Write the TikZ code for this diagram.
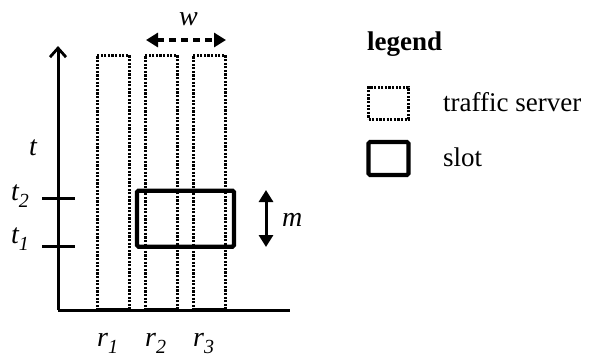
\documentclass[tikz,border=0pt]{standalone}
\usepackage{fontspec}
\setmainfont{Liberation Serif}
\usetikzlibrary{arrows.meta}
\newcommand\sbs[1]{\raisebox{-7pt}{\fontsize{20}{20}\selectfont #1}}
\begin{document}
\begin{tikzpicture}[x=1pt,y=-1pt,
  server/.style={draw=black,line width=3pt,dash pattern=on 2.2pt off 1.4pt,inner sep=0pt,outer sep=0pt},
  slotbox/.style={draw=black,line width=4.2pt,rounded corners=1.5pt,inner sep=0pt,outer sep=0pt},
  axis/.style={line width=3pt},
  lbl/.style={font=\fontsize{28}{30}\selectfont\itshape,inner sep=0pt,anchor=base west},
  txt/.style={font=\fontsize{27}{29}\selectfont,inner sep=0pt}]
\useasboundingbox (0,0) rectangle (607,360);
% axes
\coordinate (o) at (58,310);
\coordinate (ytop) at (58,46);
\coordinate (xend) at (290,310);
\draw[axis,-{Straight Barb[length=9pt,width=16pt,line width=2.8pt]}] (o) -- (ytop);
\draw[axis] (o) -- (xend);
% ticks
\coordinate (t2a) at (42,198.5); \coordinate (t2b) at (75,198.5);
\coordinate (t1a) at (42,246.5); \coordinate (t1b) at (75,246.5);
\draw[axis] (t2a) -- (t2b);
\draw[axis] (t1a) -- (t1b);
% servers
\node[server,minimum width=32pt,minimum height=255pt] (c1) at (113,182.5) {};
\node[server,minimum width=32pt,minimum height=255pt] (c2) at (161,182.5) {};
\node[server,minimum width=32pt,minimum height=255pt] (c3) at (209,182.5) {};
\draw[line width=4pt] (c1.south west) -- (c1.south east);
\draw[line width=4pt] (c2.south west) -- (c2.south east);
\draw[line width=4pt] (c3.south west) -- (c3.south east);
% slot
\node[slotbox,minimum width=97pt,minimum height=56pt] (slot) at (185.5,218.7) {};
% w arrow
\coordinate (wl) at (146,40); \coordinate (wr) at (226,40);
\draw[line width=3.2pt,dash pattern=on 7pt off 5pt,{Triangle[length=12pt,width=14pt]}-{Triangle[length=12pt,width=14pt]}] (wl) -- (wr);
\node[lbl] (w) at (179,25) {w};
% m arrow
\coordinate (mt) at (266,190); \coordinate (mb) at (266,247);
\draw[line width=3pt,{Triangle[length=12pt,width=14pt]}-{Triangle[length=12pt,width=14pt]}] (mt) -- (mb);
\node[lbl] (m) at (282,226) {m};
% labels
\node[lbl] (t) at (29,155) {t};
\node[lbl] (lt2) at (11,200) {t\sbs{2}};
\node[lbl] (lt1) at (11,243) {t\sbs{1}};
\node[lbl] (r1) at (97,346) {r\sbs{1}};
\node[lbl] (r2) at (145,346) {r\sbs{2}};
\node[lbl] (r3) at (193,346) {r\sbs{3}};
% legend
\node[txt,font=\fontsize{27}{29}\selectfont\bfseries,anchor=west] (leg) at (367,44) {legend};
\node[server,minimum width=40pt,minimum height=32pt] (ls) at (388.5,103) {};
\node[txt,anchor=west] (lst) at (443,102) {traffic server};
\node[slotbox,minimum width=40pt,minimum height=33pt] (lsl) at (388.5,158.5) {};
\node[txt,anchor=west] (lslt) at (443,157) {slot};
\end{tikzpicture}
\end{document}
